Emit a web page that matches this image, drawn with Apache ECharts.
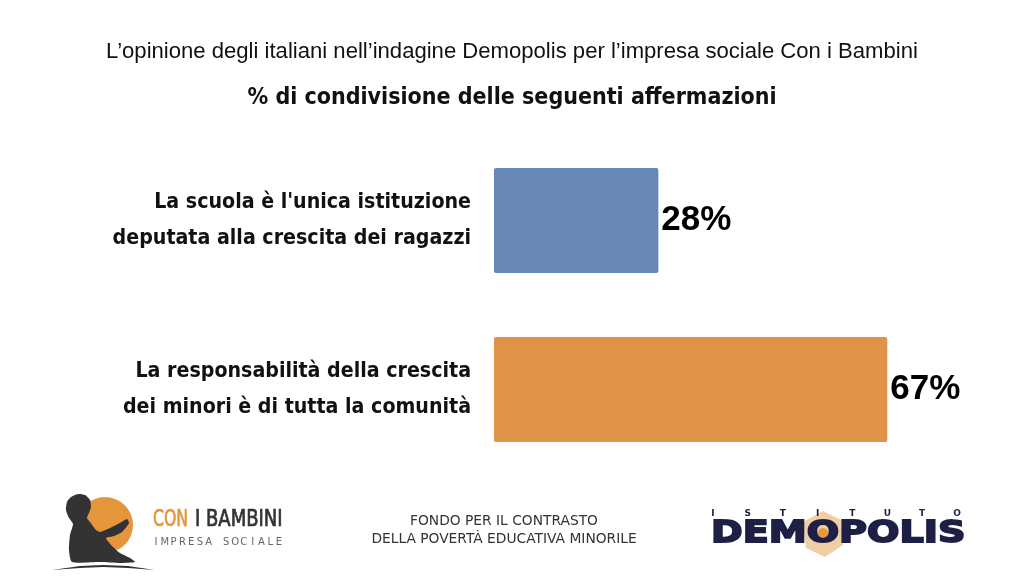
<!DOCTYPE html>
<html><head><meta charset="utf-8">
<script src="https://cdn.jsdelivr.net/npm/echarts@6/dist/echarts.min.js"></script>
<style>html,body{margin:0;padding:0;background:#fff}#c{width:1024px;height:576px}</style>
</head><body><div id="c"></div>
<script>
const titleText = "L’opinione degli italiani nell’indagine Demopolis per l’impresa sociale Con i Bambini";
const subtitleText = "% di condivisione delle seguenti affermazioni";
const categories = ["La scuola è l'unica istituzione\ndeputata alla crescita dei ragazzi",
                    "La responsabilità della crescita\ndei minori è di tutta la comunità"];
const values = [28, 67];
const barColors = ["#6787b4", "#e09248"];
const footerCenter = ["FONDO PER IL CONTRASTO", "DELLA POVERTÀ EDUCATIVA MINORILE"];

const NARROW = '"Liberation Sans Narrow", "Arial Narrow", "DejaVu Sans Condensed", sans-serif';

const chart = echarts.init(document.getElementById('c'));

function spaced(str, x0, x1, y, style) {
  const n = str.length, out = [];
  for (let i = 0; i < n; i++) {
    if (str[i] === ' ') continue;
    out.push({type:'text', x: x0 + (x1 - x0) * i / (n - 1), y: y,
      style: Object.assign({text: str[i], textAlign:'center', textVerticalAlign:'middle'}, style)});
  }
  return out;
}

const graphics = [
  // Con i Bambini logo
  {type:'circle', shape:{cx:105, cy:525, r:28}, style:{fill:'#e5963a'}},
  {type:'polygon', shape:{points:[[78,494],[85,495],[90,500],[91,507],[89,513],[87,518],[90,522],[96,530],[100,532],[110,528],[120,523],[127,519],[129,523],[122,532],[114,536],[106,538],[112,546],[120,553],[130,558],[135,562],[120,563],[100,562],[72,562],[69,550],[70,535],[73,524],[69,518],[66,510],[67,502],[71,497]], smooth:0.2},
    style:{fill:'#333333'}},
  {type:'polygon', shape:{points:[[52,570],[80,566],[103,565],[128,566],[155,570],[128,568],[103,567],[80,568]]}, style:{fill:'#333333'}},
  {type:'text', x:153, y:520, scaleX:0.76, style:{text:'CON', fill:'#e5963a', stroke:'#e5963a', lineWidth:0.7, font:'23px ' + NARROW, textVerticalAlign:'middle'}},
  {type:'text', x:195, y:520, scaleX:0.87, style:{text:'I BAMBINI', fill:'#333333', stroke:'#333333', lineWidth:0.7, font:'23px ' + NARROW, textVerticalAlign:'middle'}},
  ...spaced('IMPRESA SOCIALE', 156, 279, 542, {fill:'#666666', font:'10px "DejaVu Sans", sans-serif'}),
  // center text
  {type:'text', x:504, y:521, style:{text:footerCenter[0], fill:'#333333', font:'13.8px "DejaVu Sans", sans-serif', textAlign:'center', textVerticalAlign:'middle'}},
  {type:'text', x:504, y:539, style:{text:footerCenter[1], fill:'#333333', font:'13.8px "DejaVu Sans", sans-serif', textAlign:'center', textVerticalAlign:'middle'}},
  // Demopolis logo
  {type:'polygon', shape:{points:[[823,511],[841,520],[843,545],[825,557],[806,548],[803,522]]}, style:{fill:'rgba(226,160,80,0.5)'}},
  ...spaced('ISTITUTO', 713, 957, 514, {fill:'#1e1f45', font:'bold 9px "DejaVu Sans", sans-serif'}),
  {type:'text', x:711, y:534, scaleX:1.23, style:{text:'DEMOPOLIS', fill:'#1e1f45', stroke:'#1e1f45', lineWidth:1.8, font:'bold 31px "DejaVu Sans", sans-serif', textVerticalAlign:'middle'}},
  {type:'circle', shape:{cx:823, cy:533, r:5}, style:{fill:'#e39a3b'}}
];

chart.setOption({
  animation:false,
  backgroundColor:'#ffffff',
  title:[
    {text:titleText, left:'center', top:36, textStyle:{fontFamily:'"Liberation Sans", Arial, sans-serif', fontWeight:'normal', fontSize:22.1, color:'#111'}},
    {text:subtitleText, left:'center', top:82, textStyle:{fontFamily:NARROW, fontWeight:'bold', fontSize:23, color:'#111'}}
  ],
  grid:{left:494, right:60.4, top:136, bottom:102, containLabel:false},
  xAxis:{type:'value', min:0, max:80, show:false},
  yAxis:{type:'category', data:categories, inverse:true,
    axisLine:{show:false}, axisTick:{show:false}, splitLine:{show:false},
    axisLabel:{margin:23, fontFamily:NARROW, fontWeight:'bold', fontSize:21.2, lineHeight:36, color:'#111', align:'right'}},
  series:[{type:'bar', barWidth:105,
    data: values.map((v,i)=>({value:v, itemStyle:{color:barColors[i], borderRadius:2}})),
    label:{show:true, position:'right', distance:3, formatter:'{c}%', fontFamily:'"Liberation Sans", Arial, sans-serif', fontWeight:'bold', fontSize:35, color:'#000'}}],
  graphic: graphics
});
</script></body></html>
